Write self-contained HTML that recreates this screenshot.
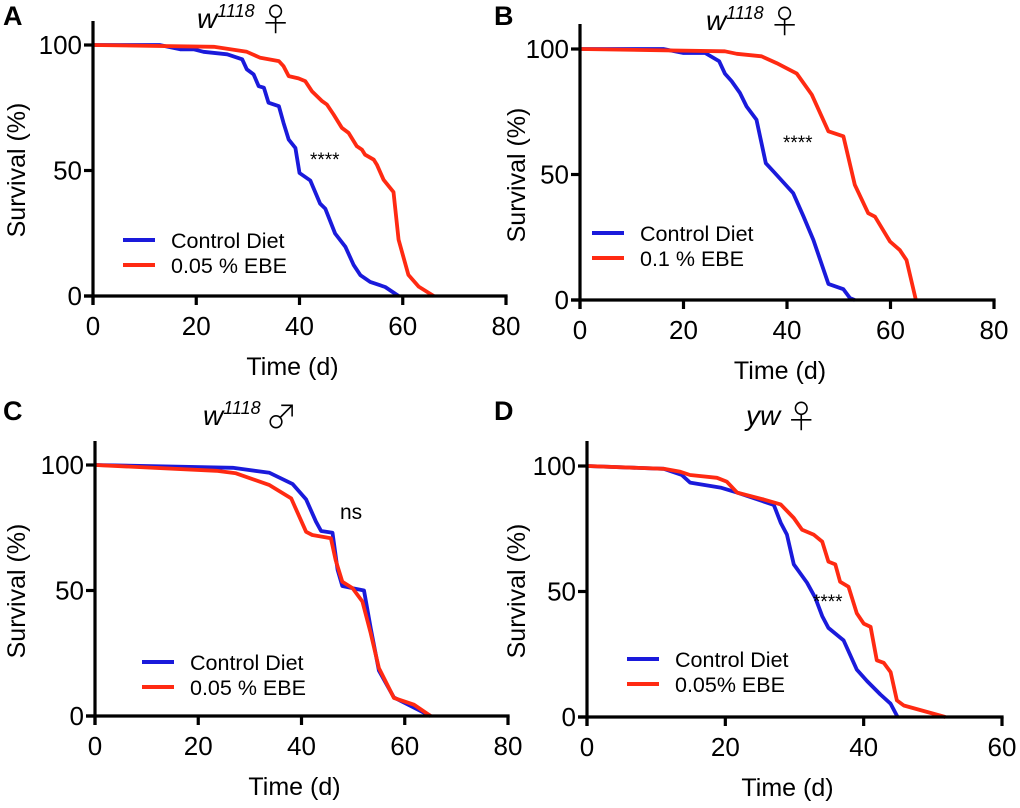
<!DOCTYPE html>
<html><head><meta charset="utf-8"><style>
body{margin:0;background:#fff;}
svg{display:block;font-family:"Liberation Sans",Arial,sans-serif;}
</style></head><body>
<svg id="fig" width="1020" height="808" viewBox="0 0 1020 808" xmlns="http://www.w3.org/2000/svg"></svg>
<script>
const NS="http://www.w3.org/2000/svg";
// Panel A
const aCtrlX=[0,12.9,16.9,19.5,21.4,26,28.9,29.8,31.1,32.1,33.1,34,36,36.9,37.9,39.2,40,42.1,44,45,46.9,48.9,50.5,51.8,53.7,56.6,59.2];
const aCtrlY=[100,100,98.3,98.3,97.3,96.3,94.3,90.3,88.3,83.6,83,77,75.6,69,62.3,59,49,46,36.8,34.8,24.9,19.6,12.3,8.3,5.6,3.6,0];
const aEbeX=[0,23.4,29.8,32.4,36,36.9,37.9,39.8,41.1,42.4,44.4,45.3,46.6,48.2,49.5,51.1,52.1,52.7,54.4,55,56.3,58.2,59.2,61.1,63.1,66];
const aEbeY=[100,99.3,97.3,94.9,93.6,91.6,87.6,86.7,85.6,81.6,77.6,76.3,72.3,67,65,59.7,58.3,56.3,54.3,52.3,46.3,41.4,22.4,8.4,3.7,0];
// Panel B
const bCtrlX=[0,16.1,20,24.2,26.9,28,29.3,30.9,32.2,34.1,35.9,37.4,41.2,43.2,45.1,48,50.9,52.2,53.1];
const bCtrlY=[100,100,98.4,98.4,95.1,90.2,87.2,82.5,77.1,71.8,54.5,51.2,42.6,33.2,23.9,6.4,4.3,0.7,0];
const bEbeX=[0,28,30.3,35.1,38,41.9,44.8,48,50.9,53.1,55.7,57,59.9,61.8,63.1,64.9];
const bEbeY=[100,99.1,98.1,97.1,94.4,90.2,81.8,67.2,65.2,45.9,34.6,33.2,23.3,19.9,15.9,0];
// Panel C
const cCtrlX=[0,26.7,33.8,38.3,40.9,42.8,43.8,46,47,47.9,49.9,52.1,53.4,55,57.9,65];
const cCtrlY=[100,98.9,96.9,92.4,86.3,77.4,73.7,73,58.2,51.8,50.9,50,35,18.1,7.4,0];
const cEbeX=[0,23.5,27.3,33.8,38,40.9,42.1,45.7,46.6,47.9,49.9,51.8,53.4,55,57.9,61.8,65];
const cEbeY=[100,97.7,96.7,92,86.7,73.4,72.1,70.8,62.2,53.5,50.9,45.6,33,19.1,7.2,4.5,0];
// Panel D
const dCtrlX=[0,11.1,13.7,14.9,19.3,21.7,27,28,28.9,29.9,31.8,33,34,34.9,37.1,39,40.5,42.4,43.9,44.9];
const dCtrlY=[100,98.9,96.4,93.4,91.4,89.4,84.5,77.4,72.7,60.8,53.5,47.5,40.2,35.5,30.5,18.9,14.3,9,5.3,0];
const dEbeX=[0,11.1,13.5,14.9,18.8,20.2,21.7,25.5,28,29.9,31.1,32.8,34,34.9,35.9,36.6,37.8,39,40,41,41.9,42.9,43.9,44.8,45.8,51.8];
const dEbeY=[100,98.9,97.7,96.4,95.3,93.8,89.4,86.7,84.7,79.3,74.6,72.6,69.9,61.9,60.8,53.9,51.9,41.3,37.2,35.9,22.6,21.6,17.9,6.6,4.6,0];
const xTicksAB=[0,20,40,60,80];
const xTicksD=[0,20,40,60];
const yTicks=[0,50,100];

const svg=document.getElementById('fig');
function el(tag,attrs,parent,text){const e=document.createElementNS(NS,tag);for(const k in attrs)e.setAttribute(k,attrs[k]);if(text!==undefined)e.textContent=text;parent.appendChild(e);return e;}

const panels=[
 {id:'a',letter:'A',lx:3,ly:25,x0:93,x1:506,xmax:80,y0:296,y1:45,top:21,xt:xTicksAB,title:'w',sup:'1118',sym:'♀',tx:197,ty:28,ytx:25,yty:170,
  series:[[aCtrlX,aCtrlY],[aEbeX,aEbeY]],legX:123,legY:240,labs:['Control Diet','0.05 % EBE'],ann:'****',ax:310,ay:166},
 {id:'b',letter:'B',lx:494,ly:25,x0:580,x1:994,xmax:80,y0:300,y1:49,top:24,xt:xTicksAB,title:'w',sup:'1118',sym:'♀',tx:706,ty:30,ytx:525,yty:175,
  series:[[bCtrlX,bCtrlY],[bEbeX,bEbeY]],legX:592,legY:233,labs:['Control Diet','0.1 % EBE'],ann:'****',ax:783,ay:149},
 {id:'c',letter:'C',lx:3,ly:420,x0:95,x1:508,xmax:80,y0:716,y1:465,top:441,xt:xTicksAB,title:'w',sup:'1118',sym:'♂',tx:203,ty:425,ytx:25,yty:591,
  series:[[cCtrlX,cCtrlY],[cEbeX,cEbeY]],legX:142,legY:662,labs:['Control Diet','0.05 % EBE'],ann:'ns',ax:340,ay:519},
 {id:'d',letter:'D',lx:494,ly:420,x0:587,x1:1002,xmax:60,y0:717,y1:466,top:441,xt:xTicksD,title:'yw',sup:'',sym:'♀',tx:746,ty:425,ytx:525,yty:591,
  series:[[dCtrlX,dCtrlY],[dEbeX,dEbeY]],legX:627,legY:659,labs:['Control Diet','0.05% EBE'],ann:'****',ax:813,ay:608}
];
const colors=['#1a1adb','#ff2a12'];
panels.forEach(p=>{
  const g=el('g',{},svg);
  
  
  const sx=v=>p.x0+(p.x1-p.x0)*v/p.xmax;
  const sy=v=>p.y0+(p.y1-p.y0)*v/100;
  const lt=el('text',{x:p.lx,y:p.ly,'font-size':27,'font-weight':'bold'},g,p.letter);
  
  const tt=el('text',{x:p.tx,y:p.ty,'font-size':28,'font-style':'italic'},g);
  
  el('tspan',{},tt,p.title);
  if(p.sup)el('tspan',{'font-size':18,dy:-11},tt,p.sup);
  el('tspan',{'font-style':'normal','font-weight':300,'font-size':32,dy:p.sup?14:3,dx:5,'font-family':'Noto Sans CJK JP, DejaVu Sans, sans-serif'},tt,p.sym);
  p.series.forEach((s,i)=>{
    const pts=s[0].map((x,k)=>sx(x).toFixed(1)+','+sy(s[1][k]).toFixed(1)).join(' ');
    const pl=el('polyline',{points:pts,fill:'none',stroke:colors[i],'stroke-width':3.8,'stroke-linejoin':'round'},g);
    
    
  });
  const ya=el('line',{x1:p.x0,y1:p.top,x2:p.x0,y2:p.y0+9,stroke:'#000','stroke-width':3.2},g);
  
  const xa=el('line',{x1:p.x0-9,y1:p.y0,x2:p.x1+1.6,y2:p.y0,stroke:'#000','stroke-width':3.2},g);
  
  p.xt.forEach(t=>{
    el('line',{x1:sx(t),y1:p.y0,x2:sx(t),y2:p.y0+9,stroke:'#000','stroke-width':3.2},g);
    const tl=el('text',{x:sx(t),y:p.y0+39,'font-size':26,'text-anchor':'middle'},g,t);
    
  });
  yTicks.forEach(t=>{
    el('line',{x1:p.x0-9,y1:sy(t),x2:p.x0,y2:sy(t),stroke:'#000','stroke-width':3.2},g);
    const tl=el('text',{x:p.x0-11,y:sy(t)+9,'font-size':26,'text-anchor':'end'},g,t);
    
  });
  const xt=el('text',{x:(sx(0)+sx(p.xmax))/2-7,y:p.y0+79,'font-size':25,'text-anchor':'middle'},g,'Time (d)');
  
  const yt=el('text',{x:0,y:0,'font-size':25,'text-anchor':'middle',transform:`translate(${p.ytx},${p.yty}) rotate(-90)`},g,'Survival (%)');
  
  p.labs.forEach((lab,i)=>{
    const ly=p.legY+i*25;
    const ll=el('line',{x1:p.legX,y1:ly,x2:p.legX+32,y2:ly,stroke:colors[i],'stroke-width':4},g);
    
    const lt2=el('text',{x:p.legX+48,y:ly+8,'font-size':21.5},g,lab);
    
  });
  const an=el('text',{x:p.ax,y:p.ay,'font-size':p.ann==='ns'?21:19},g,p.ann);
  
});
</script>
</body></html>
